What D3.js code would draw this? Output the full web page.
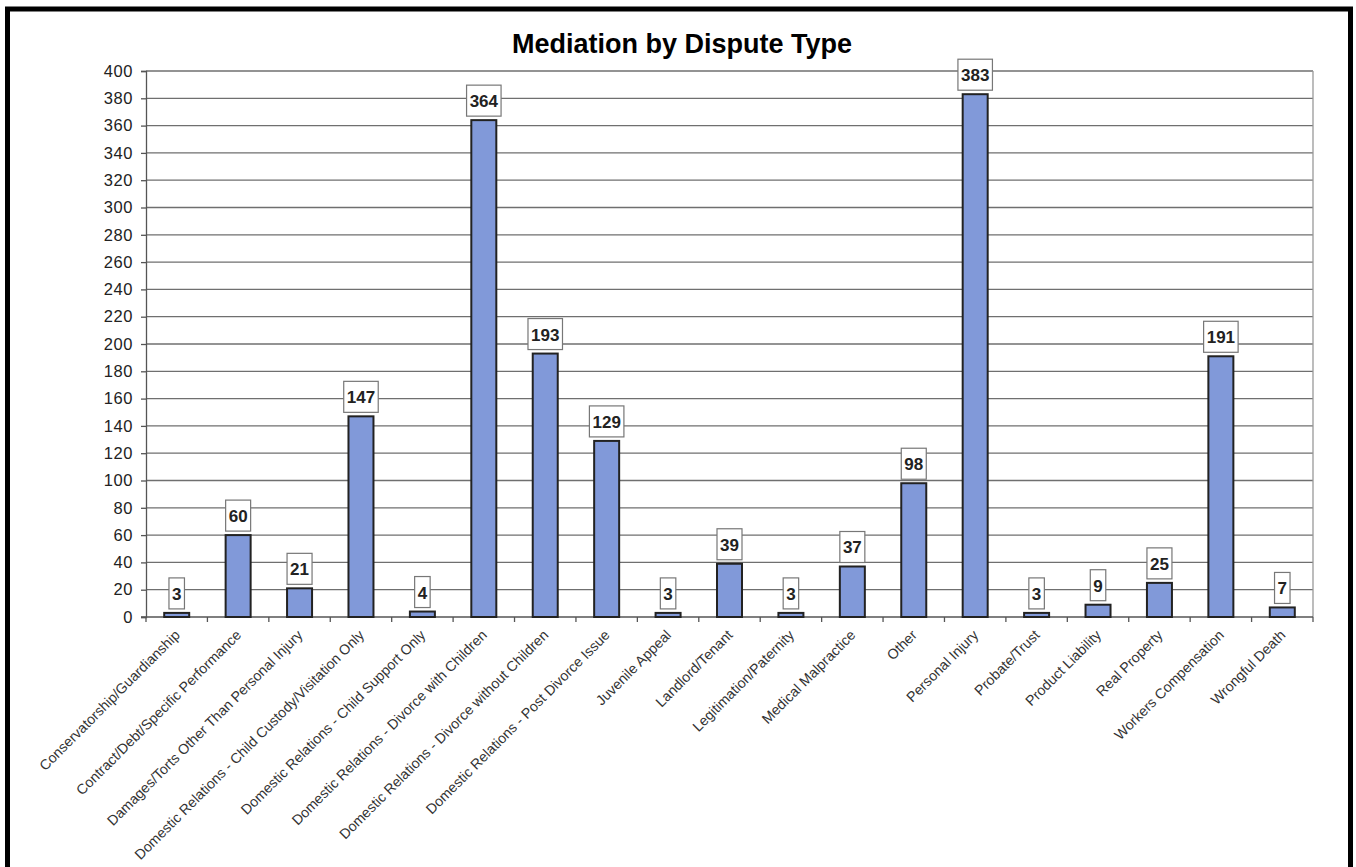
<!DOCTYPE html>
<html>
<head>
<meta charset="utf-8">
<script src="https://cdnjs.cloudflare.com/ajax/libs/d3/7.8.5/d3.min.js"></script>
<style>
  body { margin: 0; background: #fff; }
  svg text { font-family: "Liberation Sans", Arial, sans-serif; }
</style>
</head>
<body>
<div id="viz"></div>
<script>
/* global d3 */
const categories = [
  'Conservatorship/Guardianship',
  'Contract/Debt/Specific Performance',
  'Damages/Torts Other Than Personal Injury',
  'Domestic Relations - Child Custody/Visitation Only',
  'Domestic Relations - Child Support Only',
  'Domestic Relations - Divorce with Children',
  'Domestic Relations - Divorce without Children',
  'Domestic Relations - Post Divorce Issue',
  'Juvenile Appeal',
  'Landlord/Tenant',
  'Legitimation/Paternity',
  'Medical Malpractice',
  'Other',
  'Personal Injury',
  'Probate/Trust',
  'Product Liability',
  'Real Property',
  'Workers Compensation',
  'Wrongful Death',
];
const counts = [3, 60, 21, 147, 4, 364, 193, 129, 3, 39, 3, 37, 98, 383, 3, 9, 25, 191, 7];
const yTicks = d3.range(0, 401, 20);

const width = 1356;
const height = 867;

const svg = d3.select('#viz').append('svg')
  .attr('width', width)
  .attr('height', height);

// outer frame
svg.append('rect')
  .attr('x', 7.5).attr('y', 9)
  .attr('width', 1343).attr('height', 870)
  .attr('fill', '#fff')
  .attr('stroke', '#000')
  .attr('stroke-width', 5);

svg.append('text')
  .attr('x', 682).attr('y', 53)
  .attr('text-anchor', 'middle')
  .attr('font-size', 27)
  .attr('font-weight', 'bold')
  .attr('fill', '#000')
  .text('Mediation by Dispute Type');

const xScale = d3.scaleBand()
  .domain(categories)
  .range([146, 1313])
  .paddingInner(0)
  .paddingOuter(0);

const yScale = d3.scaleLinear()
  .domain([0, 400])
  .range([617, 71]);

const g = svg.append('g');

// gridlines
g.selectAll('line.grid')
  .data(yTicks.filter(d => d > 0))
  .enter()
  .append('line')
  .attr('class', 'grid')
  .attr('x1', 146).attr('x2', 1313)
  .attr('y1', d => yScale(d)).attr('y2', d => yScale(d))
  .attr('stroke', '#6f6f6f')
  .attr('stroke-width', 1.3);

// right edge of plot
g.append('line')
  .attr('x1', 1313).attr('x2', 1313)
  .attr('y1', yScale(400)).attr('y2', yScale(0))
  .attr('stroke', '#999')
  .attr('stroke-width', 1.3);

// y axis
const yAxis = g.append('g')
  .attr('transform', 'translate(146,0)')
  .call(d3.axisLeft(yScale).tickValues(yTicks).tickSize(5).tickPadding(8));
yAxis.select('.domain').attr('stroke', '#555').attr('stroke-width', 1.3);
yAxis.selectAll('.tick line').attr('stroke', '#555').attr('stroke-width', 1.3);
yAxis.selectAll('.tick text')
  .attr('font-size', 16.5)
  .attr('letter-spacing', 0.6)
  .attr('fill', '#222')
  .style('font-family', '"Liberation Sans", Arial, sans-serif');

// x axis baseline + ticks at band edges
g.append('line')
  .attr('x1', 141).attr('x2', 1313)
  .attr('y1', yScale(0)).attr('y2', yScale(0))
  .attr('stroke', '#555')
  .attr('stroke-width', 1.3);

const edges = categories.map(c => xScale(c)).concat([xScale.range()[1]]);
g.selectAll('line.xtick')
  .data(edges)
  .enter()
  .append('line')
  .attr('class', 'xtick')
  .attr('x1', d => d).attr('x2', d => d)
  .attr('y1', yScale(0)).attr('y2', yScale(0) + 5)
  .attr('stroke', '#555')
  .attr('stroke-width', 1.3);

// bars
const barW = 25;
g.selectAll('rect.bar')
  .data(categories)
  .enter()
  .append('rect')
  .attr('class', 'bar')
  .attr('x', d => xScale(d) + xScale.bandwidth() / 2 - barW / 2)
  .attr('y', (d, i) => yScale(counts[i]))
  .attr('width', barW)
  .attr('height', (d, i) => yScale(0) - yScale(counts[i]))
  .attr('fill', '#8199d9')
  .attr('stroke', '#222')
  .attr('stroke-width', 2);

// value labels in boxes
const labels = g.selectAll('g.vlabel')
  .data(categories)
  .enter()
  .append('g')
  .attr('class', 'vlabel')
  .attr('transform', (d, i) => `translate(${xScale(d) + xScale.bandwidth() / 2},${yScale(counts[i]) - 4})`);

labels.append('rect')
  .attr('x', (d, i) => -(String(counts[i]).length * 9.5 + 6) / 2)
  .attr('y', -31)
  .attr('width', (d, i) => String(counts[i]).length * 9.5 + 6)
  .attr('height', 31)
  .attr('fill', '#fff')
  .attr('stroke', '#777')
  .attr('stroke-width', 1.2);

labels.append('text')
  .attr('x', 0)
  .attr('y', -9)
  .attr('text-anchor', 'middle')
  .attr('font-size', 17)
  .attr('font-weight', 'bold')
  .attr('fill', '#222')
  .text((d, i) => counts[i]);

// category labels
g.selectAll('text.xlabel')
  .data(categories)
  .enter()
  .append('text')
  .attr('class', 'xlabel')
  .attr('transform', d => `translate(${xScale(d) + xScale.bandwidth() / 2 + 4},${yScale(0) + 19}) rotate(-45)`)
  .attr('text-anchor', 'end')
  .attr('font-size', 14.2)
  .attr('fill', '#333')
  .text(d => d);
</script>
</body>
</html>
